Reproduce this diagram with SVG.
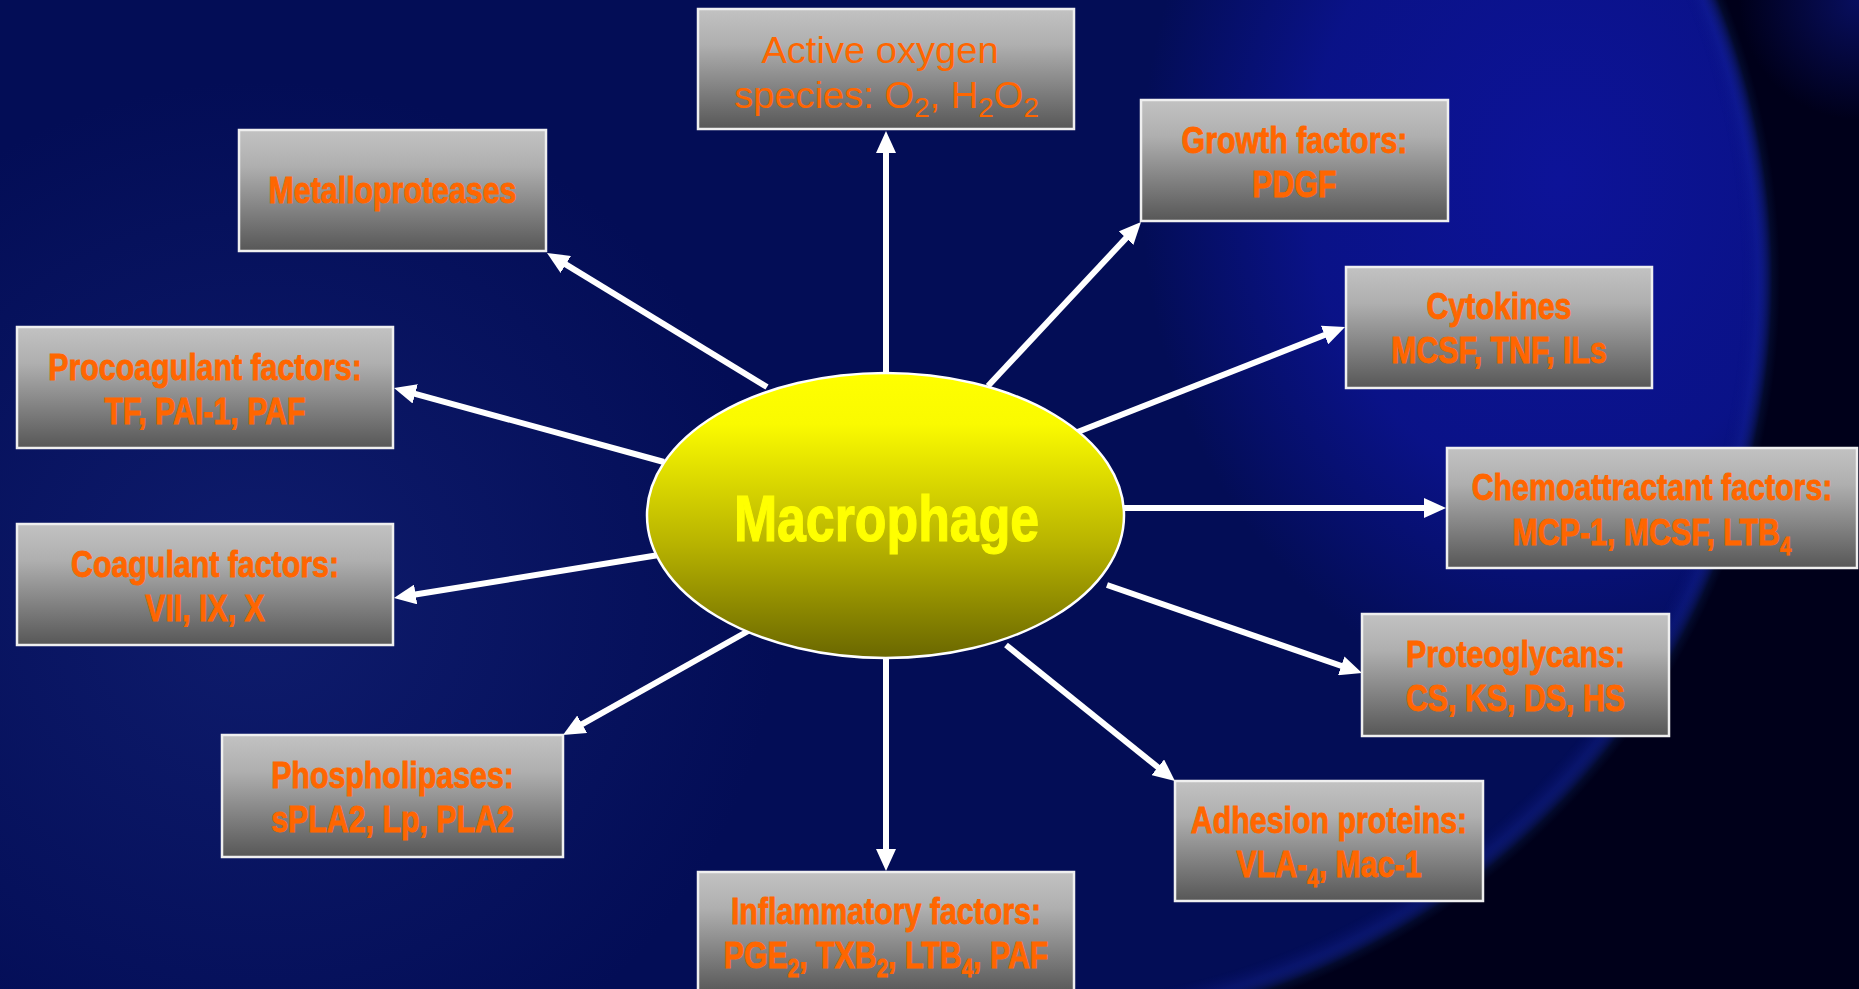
<svg xmlns="http://www.w3.org/2000/svg" width="1859" height="989" viewBox="0 0 1859 989">
<defs>
<linearGradient id="boxg" x1="0" y1="0" x2="0" y2="1">
<stop offset="0" stop-color="#c2c2c2"/>
<stop offset="0.3" stop-color="#afafaf"/>
<stop offset="1" stop-color="#575757"/>
</linearGradient>
<linearGradient id="ellg" x1="0" y1="0" x2="0" y2="1">
<stop offset="0" stop-color="#ffff00"/>
<stop offset="0.18" stop-color="#fafa00"/>
<stop offset="0.6" stop-color="#b8b300"/>
<stop offset="1" stop-color="#6a6700"/>
</linearGradient>
<radialGradient id="leftGlow" gradientUnits="userSpaceOnUse" cx="260" cy="600" r="520">
<stop offset="0" stop-color="#18287f" stop-opacity="0.55"/>
<stop offset="1" stop-color="#18287f" stop-opacity="0"/>
</radialGradient>
<radialGradient id="brightR" gradientUnits="userSpaceOnUse" cx="0" cy="0" r="1" gradientTransform="translate(1560 180) scale(420 520)">
<stop offset="0" stop-color="#0d1398" stop-opacity="1"/>
<stop offset="0.6" stop-color="#0b1390" stop-opacity="0.85"/>
<stop offset="1" stop-color="#0b1390" stop-opacity="0"/>
</radialGradient>
<radialGradient id="rim" gradientUnits="userSpaceOnUse" cx="1020" cy="280" r="760">
<stop offset="0" stop-color="#000000" stop-opacity="0"/>
<stop offset="0.95" stop-color="#0a1480" stop-opacity="0"/>
<stop offset="0.97" stop-color="#16269a" stop-opacity="0.3"/>
<stop offset="0.99" stop-color="#030a2c" stop-opacity="1"/>
<stop offset="1" stop-color="#00001a" stop-opacity="1"/>
</radialGradient>
<radialGradient id="cornerTR" gradientUnits="userSpaceOnUse" cx="1859" cy="0" r="120">
<stop offset="0" stop-color="#0a1270" stop-opacity="0.8"/>
<stop offset="1" stop-color="#0a1270" stop-opacity="0"/>
</radialGradient>
<linearGradient id="fadeR" gradientUnits="userSpaceOnUse" x1="700" y1="0" x2="1200" y2="0">
<stop offset="0" stop-color="#000"/>
<stop offset="1" stop-color="#fff"/>
</linearGradient>
<mask id="mR"><rect width="1859" height="989" fill="url(#fadeR)"/></mask>
<marker id="ah" markerUnits="userSpaceOnUse" markerWidth="22" markerHeight="20" viewBox="0 0 22 20" refX="2" refY="10" orient="auto">
<path d="M0,0 L22,10 L0,20 z" fill="#ffffff"/>
</marker>
</defs>
<style>
.box{fill:url(#boxg);stroke:#efefef;stroke-width:2.5}
.lbl{font-family:"Liberation Sans",Arial,sans-serif;font-weight:bold;font-size:37px;fill:#ff6600;stroke:#ff6600;stroke-width:0.9;text-anchor:middle}
.reg{font-weight:normal;stroke:none}
.sub{font-size:25px}
.rsub{font-size:27px}
.conn line{stroke:#ffffff;stroke-width:6;marker-end:url(#ah)}
.mac{font-family:"Liberation Sans",Arial,sans-serif;font-weight:bold;font-size:64px;fill:#ffff00;stroke:#ffff00;stroke-width:1.2;text-anchor:middle}
</style>

<g id="background">
<rect width="1859" height="989" fill="#030d56"/>
<rect width="1859" height="989" fill="url(#leftGlow)"/>
<rect width="1859" height="989" fill="url(#brightR)"/>
<rect width="1859" height="989" fill="url(#rim)" mask="url(#mR)"/>
<rect x="1700" y="0" width="159" height="160" fill="url(#cornerTR)"/>
</g>

<g id="connectors" class="conn">
<line x1="886" y1="372" x2="886" y2="151"/>
<line x1="767" y1="387" x2="564.1" y2="263.4"/>
<line x1="988" y1="386" x2="1127.4" y2="236.6"/>
<line x1="1075" y1="433" x2="1326.4" y2="334.3"/>
<line x1="664" y1="462" x2="413.3" y2="393.3"/>
<line x1="1124" y1="508" x2="1426" y2="508"/>
<line x1="665" y1="554" x2="413.7" y2="594.8"/>
<line x1="1107" y1="585" x2="1343.1" y2="666.5"/>
<line x1="750" y1="630" x2="580.4" y2="725.2"/>
<line x1="1006" y1="645" x2="1159.4" y2="768.5"/>
<line x1="886" y1="659" x2="886" y2="851"/>
</g>

<g id="macrophage">
<ellipse cx="885.5" cy="515.5" rx="238.5" ry="142.5" fill="url(#ellg)" stroke="#ffffff" stroke-width="2.5"/>
<text class="mac" transform="translate(886.5 541) scale(0.81 1)">Macrophage</text>
</g>

<g id="oxygen">
<rect class="box" x="698" y="9" width="376" height="120"/>
<text class="lbl reg" transform="translate(880 63) scale(1.03 1)">Active oxygen</text>
<text class="lbl reg" transform="translate(886.5 108) scale(1.03 1)">species: O<tspan class="rsub" dy="9">2</tspan><tspan dy="-9">, H</tspan><tspan class="rsub" dy="9">2</tspan><tspan dy="-9">O</tspan><tspan class="rsub" dy="9">2</tspan></text>
</g>

<g id="metalloproteases">
<rect class="box" x="239" y="130" width="307" height="121"/>
<text class="lbl" transform="translate(392.5 203) scale(0.82 1)">Metalloproteases</text>
</g>

<g id="growth">
<rect class="box" x="1141" y="100" width="307" height="121"/>
<text class="lbl" transform="translate(1294.5 153) scale(0.82 1)">Growth factors:</text>
<text class="lbl" transform="translate(1294.5 197) scale(0.82 1)">PDGF</text>
</g>

<g id="cytokines">
<rect class="box" x="1346" y="267" width="306" height="121"/>
<text class="lbl" transform="translate(1499 319) scale(0.82 1)">Cytokines</text>
<text class="lbl" transform="translate(1499 363) scale(0.82 1)">MCSF, TNF, ILs</text>
</g>

<g id="procoagulant">
<rect class="box" x="17" y="327" width="376" height="121"/>
<text class="lbl" transform="translate(205 380) scale(0.82 1)">Procoagulant factors:</text>
<text class="lbl" transform="translate(205 424) scale(0.82 1)">TF, PAI-1, PAF</text>
</g>

<g id="chemoattractant">
<rect class="box" x="1447" y="448" width="410" height="120"/>
<text class="lbl" transform="translate(1652 500) scale(0.82 1)">Chemoattractant factors:</text>
<text class="lbl" transform="translate(1652 545) scale(0.82 1)">MCP-1, MCSF, LTB<tspan class="sub" dy="10">4</tspan></text>
</g>

<g id="coagulant">
<rect class="box" x="17" y="524" width="376" height="121"/>
<text class="lbl" transform="translate(205 577) scale(0.82 1)">Coagulant factors:</text>
<text class="lbl" transform="translate(205 621) scale(0.82 1)">VII, IX, X</text>
</g>

<g id="proteoglycans">
<rect class="box" x="1362" y="614" width="307" height="122"/>
<text class="lbl" transform="translate(1515.5 667) scale(0.82 1)">Proteoglycans:</text>
<text class="lbl" transform="translate(1515.5 711) scale(0.82 1)">CS, KS, DS, HS</text>
</g>

<g id="phospholipases">
<rect class="box" x="222" y="735" width="341" height="122"/>
<text class="lbl" transform="translate(392.5 788) scale(0.82 1)">Phospholipases:</text>
<text class="lbl" transform="translate(392.5 832) scale(0.82 1)">sPLA2, Lp, PLA2</text>
</g>

<g id="adhesion">
<rect class="box" x="1175" y="781" width="308" height="120"/>
<text class="lbl" transform="translate(1329 833) scale(0.82 1)">Adhesion proteins:</text>
<text class="lbl" transform="translate(1329 877) scale(0.82 1)">VLA-<tspan class="sub" dy="10">4</tspan><tspan dy="-10">, Mac-1</tspan></text>
</g>

<g id="inflammatory">
<rect class="box" x="698" y="872" width="376" height="122"/>
<text class="lbl" transform="translate(886 924) scale(0.82 1)">Inflammatory factors:</text>
<text class="lbl" transform="translate(886 968) scale(0.82 1)">PGE<tspan class="sub" dy="9">2</tspan><tspan dy="-9">, TXB</tspan><tspan class="sub" dy="9">2</tspan><tspan dy="-9">, LTB</tspan><tspan class="sub" dy="9">4</tspan><tspan dy="-9">, PAF</tspan></text>
</g>
</svg>
